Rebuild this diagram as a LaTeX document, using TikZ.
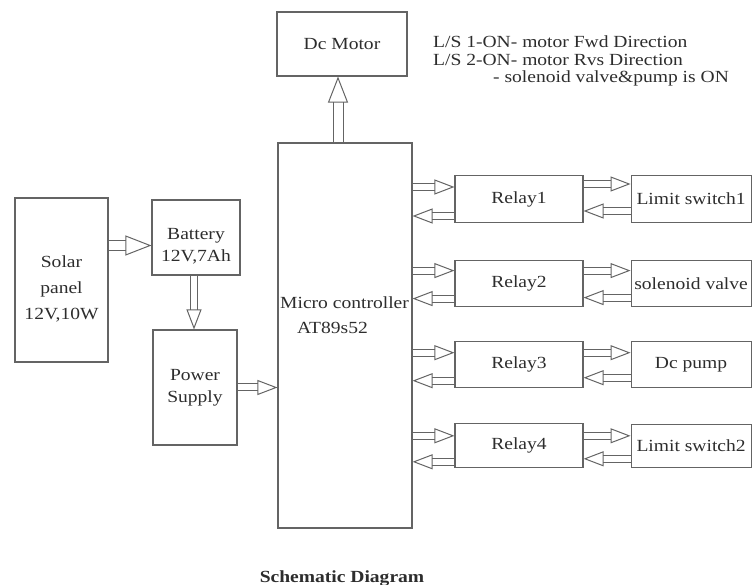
\documentclass[tikz,border=0pt]{standalone}
\usepackage{fontspec}
\setmainfont{Liberation Serif}[FakeStretch=1.15]
\usetikzlibrary{positioning,arrows.meta,calc}
\definecolor{lnclr}{RGB}{100,100,100}
\definecolor{txtclr}{RGB}{45,45,45}

\begin{document}
\begin{tikzpicture}[x=1pt,y=-1pt,font=\fontsize{17}{22}\selectfont,
  blk/.style={draw=lnclr,line width=1.1pt,inner sep=0pt,align=center,text=txtclr},
  txt/.style={inner sep=0pt,align=center,text=txtclr},
  dbl/.style={draw=lnclr,double=white,double distance=6pt,line width=1pt,
    -{Triangle[open,length=20pt,width=15pt]}},
  bigdbl/.style={dbl,double distance=9pt,-{Triangle[open,length=26pt,width=20pt]}}]
  \useasboundingbox (0,0) rectangle (753,585);
  % power side
  \node[blk,minimum width=93pt,minimum height=164pt] (solar) at (61.5,280) {};
  \node[txt,font=\fontsize{17}{26}\selectfont] (solartxt) at ([yshift=-9pt]solar.center)
        {Solar\\panel\\12V,10W};
  \node[blk,minimum width=88pt,minimum height=75pt] (batt) at (196,237.5) {};
  \node[txt] (batttxt) at ([yshift=-9pt]batt.center) {Battery\\12V,7Ah};
  \node[blk,minimum width=84pt,minimum height=115pt] (psu) at (195,387.5) {Power\\Supply};
  % controller and motor
  \node[blk,minimum width=134pt,minimum height=385pt] (mcu) at (345,335.5) {};
  \node[txt,align=left,anchor=north west,font=\fontsize{17}{25}\selectfont] (mcutxt)
        at (280,297) {Micro controller\\\hspace*{17pt}AT89s52};
  \node[blk,minimum width=130pt,minimum height=64pt] (motor) at (342,44) {Dc Motor};
  \node[txt,align=left,anchor=north west,font=\fontsize{17}{17.5}\selectfont] (notes)
        at (433,36) {L/S 1-ON- motor Fwd Direction\\L/S 2-ON- motor Rvs Direction\\
        \hspace*{60pt}- solenoid valve\&pump is ON};
  % relays and loads
  \node[blk,minimum width=128pt,minimum height=47pt] (rly1) at (519,199) {Relay1};
  \node[blk,minimum width=128pt,minimum height=46pt,below=37pt of rly1] (rly2) {Relay2};
  \node[blk,minimum width=128pt,minimum height=46pt,below=34pt of rly2] (rly3) {Relay3};
  \node[blk,minimum width=128pt,minimum height=44pt,below=35pt of rly3] (rly4) {Relay4};
  \node[blk,minimum width=120pt,minimum height=47pt,right=47pt of rly1] (ls1) {Limit switch1};
  \node[blk,minimum width=120pt,minimum height=46pt,right=47pt of rly2] (valve) {solenoid valve};
  \node[blk,minimum width=120pt,minimum height=46pt,right=47pt of rly3] (pump) {Dc pump};
  \node[blk,minimum width=120pt,minimum height=43pt,right=47pt of rly4] (ls2) {Limit switch2};
  \node[txt,font=\fontsize{17}{20}\selectfont\bfseries,anchor=base] (title) at (342,582)
        {Schematic Diagram};
  % connectors
  \draw[bigdbl] ([yshift=-8pt]batt.west -| solar.east) -- ([yshift=-8pt]batt.west);
  \draw[dbl] ([xshift=-2pt]batt.south) -- ([xshift=-2pt]batt.south |- psu.north);
  \draw[dbl] (psu.east) -- (psu.east -| mcu.west);
  \draw[bigdbl] ([xshift=-7pt]mcu.north) -- ([xshift=-7pt]mcu.north |- motor.south);
  \draw[dbl] ([yshift=12pt]rly1.west -| mcu.east) -- ([yshift=12pt]rly1.west);
  \draw[dbl] ([yshift=-17pt]rly1.west) -- ([yshift=-17pt]rly1.west -| mcu.east);
  \draw[dbl] ([yshift=13pt]rly2.west -| mcu.east) -- ([yshift=13pt]rly2.west);
  \draw[dbl] ([yshift=-15pt]rly2.west) -- ([yshift=-15pt]rly2.west -| mcu.east);
  \draw[dbl] ([yshift=12pt]rly3.west -| mcu.east) -- ([yshift=12pt]rly3.west);
  \draw[dbl] ([yshift=-16pt]rly3.west) -- ([yshift=-16pt]rly3.west -| mcu.east);
  \draw[dbl] ([yshift=10pt]rly4.west -| mcu.east) -- ([yshift=10pt]rly4.west);
  \draw[dbl] ([yshift=-16pt]rly4.west) -- ([yshift=-16pt]rly4.west -| mcu.east);
  \draw[dbl] ([yshift=15pt]rly1.east) -- ([yshift=15pt]rly1.east -| ls1.west);
  \draw[dbl] ([yshift=-12pt]ls1.west) -- ([yshift=-12pt]ls1.west -| rly1.east);
  \draw[dbl] ([yshift=13pt]rly2.east) -- ([yshift=13pt]rly2.east -| valve.west);
  \draw[dbl] ([yshift=-14pt]valve.west) -- ([yshift=-14pt]valve.west -| rly2.east);
  \draw[dbl] ([yshift=12pt]rly3.east) -- ([yshift=12pt]rly3.east -| pump.west);
  \draw[dbl] ([yshift=-13pt]pump.west) -- ([yshift=-13pt]pump.west -| rly3.east);
  \draw[dbl] ([yshift=10pt]rly4.east) -- ([yshift=10pt]rly4.east -| ls2.west);
  \draw[dbl] ([yshift=-13pt]ls2.west) -- ([yshift=-13pt]ls2.west -| rly4.east);
\end{tikzpicture}
\end{document}
